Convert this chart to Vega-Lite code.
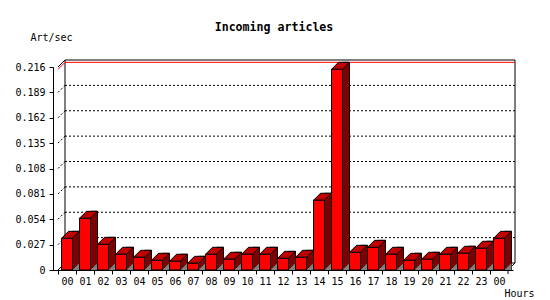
{
  "$schema": "https://vega.github.io/schema/vega-lite/v6.json",
  "width": 460,
  "height": 203,
  "autosize": {"type": "none"},
  "padding": {"left": 53, "top": 67, "right": 37, "bottom": 30},
  "background": "white",
  "title": {"text": "Incoming articles", "font": "DejaVu Sans Mono", "fontSize": 11.6, "fontWeight": "bold", "color": "black", "anchor": "middle", "frame": "group", "baseline": "alphabetic", "offset": -11, "dx": -9},
  "config": {
    "view": {"stroke": null},
    "axis": {"labelFont": "DejaVu Sans Mono", "titleFont": "DejaVu Sans Mono", "labelFontSize": 10, "titleFontSize": 10, "labelColor": "black", "titleColor": "black", "domainColor": "black", "tickColor": "black", "titleFontWeight": "normal"}
  },
  "resolve": {"axis": {"x": "independent", "y": "independent"}},
  "datasets": {
    "rates": [
      {"hour": 0, "v": 0.0337}, {"hour": 1, "v": 0.055}, {"hour": 2, "v": 0.0273}, {"hour": 3, "v": 0.0167},
      {"hour": 4, "v": 0.0135}, {"hour": 5, "v": 0.0103}, {"hour": 6, "v": 0.0093}, {"hour": 7, "v": 0.0071},
      {"hour": 8, "v": 0.0167}, {"hour": 9, "v": 0.0114}, {"hour": 10, "v": 0.0167}, {"hour": 11, "v": 0.0167},
      {"hour": 12, "v": 0.0124}, {"hour": 13, "v": 0.0135}, {"hour": 14, "v": 0.0742}, {"hour": 15, "v": 0.2135},
      {"hour": 16, "v": 0.0188}, {"hour": 17, "v": 0.0241}, {"hour": 18, "v": 0.0167}, {"hour": 19, "v": 0.0103},
      {"hour": 20, "v": 0.0114}, {"hour": 21, "v": 0.0167}, {"hour": 22, "v": 0.0178}, {"hour": 23, "v": 0.0231},
      {"hour": 24, "v": 0.0337}
    ],
    "grid": [{"g": 0.027}, {"g": 0.054}, {"g": 0.081}, {"g": 0.108}, {"g": 0.135}, {"g": 0.162}, {"g": 0.189}],
    "one": [{}]
  },
  "data": {"name": "rates"},
  "layer": [
    {
      "mark": {"type": "bar", "width": 11, "fill": "#ff0000", "opacity": 0},
      "encoding": {
        "x": {
          "field": "hour", "type": "quantitative", "title": "Hours",
          "scale": {"domain": [-0.5, 24.5], "nice": false, "zero": false},
          "axis": {
            "values": [0, 1, 2, 3, 4, 5, 6, 7, 8, 9, 10, 11, 12, 13, 14, 15, 16, 17, 18, 19, 20, 21, 22, 23, 24],
            "labelExpr": "datum.value == 24 ? '00' : (datum.value < 10 ? '0' : '') + datum.value",
            "tickOffset": -9.2, "labelOffset": 9.2, "tickSize": 4, "labelPadding": 2, "grid": false,
            "labelFlush": false, "labelOverlap": false, "labelAngle": 0,
            "title": "Hours", "titleX": 481, "titleY": 23, "titleAlign": "right", "titleBaseline": "middle"
          }
        },
        "y": {
          "field": "v", "type": "quantitative", "title": "Art/sec",
          "scale": {"domain": [0, 0.216], "nice": false, "zero": false},
          "axis": {
            "values": [0, 0.027, 0.054, 0.081, 0.108, 0.135, 0.162, 0.189, 0.216],
            "labelExpr": "datum.value == 0 ? '0' : format(datum.value, '.3f')",
            "tickSize": 4, "labelPadding": 4, "grid": false, "labelFlush": false, "labelOverlap": false,
            "title": "Art/sec", "titleAngle": 0, "titleX": -23, "titleY": -30, "titleAlign": "left", "titleBaseline": "middle"
          }
        },
        "y2": {"datum": 0}
      }
    },
    {
      "data": {"name": "one"},
      "mark": {"type": "rect", "fill": "transparent", "stroke": "black", "strokeWidth": 1, "xOffset": 7, "x2Offset": 7, "yOffset": -7, "y2Offset": -7},
      "encoding": {
        "x": {"datum": -0.5, "type": "quantitative", "axis": null},
        "x2": {"datum": 24.5},
        "y": {"datum": 0, "type": "quantitative", "axis": null},
        "y2": {"datum": 0.216}
      }
    },
    {
      "data": {"name": "grid"},
      "mark": {"type": "rule", "color": "black", "strokeWidth": 1, "strokeDash": [2, 2], "xOffset": 7, "x2Offset": 7, "yOffset": -7},
      "encoding": {
        "x": {"datum": -0.5, "type": "quantitative", "axis": null},
        "x2": {"datum": 24.5},
        "y": {"field": "g", "type": "quantitative", "axis": null}
      }
    },
    {
      "data": {"name": "grid"},
      "mark": {"type": "rule", "color": "black", "strokeWidth": 1, "strokeDash": [2, 2], "x2Offset": 7, "y2Offset": -7},
      "encoding": {
        "x": {"datum": -0.5, "type": "quantitative", "axis": null},
        "x2": {"datum": -0.5},
        "y": {"field": "g", "type": "quantitative", "axis": null},
        "y2": {"field": "g"}
      }
    },
    {
      "transform": [{"aggregate": [{"op": "max", "field": "v", "as": "m"}]}],
      "mark": {"type": "rule", "color": "#ff0000", "strokeWidth": 1, "xOffset": 7, "x2Offset": 7, "yOffset": -7},
      "encoding": {
        "x": {"datum": -0.5, "type": "quantitative", "axis": null},
        "x2": {"datum": 24.5},
        "y": {"field": "m", "type": "quantitative", "axis": null}
      }
    },
    {
      "transform": [{"aggregate": [{"op": "max", "field": "v", "as": "m"}]}],
      "mark": {"type": "rule", "color": "#ff0000", "strokeWidth": 1, "x2Offset": 7, "y2Offset": -7},
      "encoding": {
        "x": {"datum": -0.5, "type": "quantitative", "axis": null},
        "x2": {"datum": -0.5},
        "y": {"field": "m", "type": "quantitative", "axis": null},
        "y2": {"field": "m"}
      }
    },
    {
      "data": {"name": "one"},
      "mark": {"type": "rule", "color": "black", "strokeWidth": 1, "x2Offset": 7, "y2Offset": -7},
      "encoding": {
        "x": {"datum": -0.5, "type": "quantitative", "axis": null},
        "x2": {"datum": -0.5},
        "y": {"datum": 0.216, "type": "quantitative", "axis": null},
        "y2": {"datum": 0.216}
      }
    },
    {
      "data": {"name": "one"},
      "mark": {"type": "rule", "color": "black", "strokeWidth": 1, "x2Offset": 7, "y2Offset": -7},
      "encoding": {
        "x": {"datum": -0.5, "type": "quantitative", "axis": null},
        "x2": {"datum": -0.5},
        "y": {"datum": 0, "type": "quantitative", "axis": null},
        "y2": {"datum": 0}
      }
    },
    {
      "data": {"name": "one"},
      "mark": {"type": "rule", "color": "black", "strokeWidth": 1, "x2Offset": 7, "y2Offset": -7},
      "encoding": {
        "x": {"datum": 24.5, "type": "quantitative", "axis": null},
        "x2": {"datum": 24.5},
        "y": {"datum": 0, "type": "quantitative", "axis": null},
        "y2": {"datum": 0}
      }
    },
    {
      "data": {"name": "one"},
      "mark": {"type": "rule", "color": "black", "strokeWidth": 1, "y2Offset": 4},
      "encoding": {
        "x": {"datum": 24.5, "type": "quantitative", "axis": null},
        "y": {"datum": 0, "type": "quantitative", "axis": null},
        "y2": {"datum": 0}
      }
    },
    {
      "mark": {"type": "bar", "width": 7, "xOffset": 9, "yOffset": -7, "fill": "#800000", "stroke": "black", "strokeWidth": 1},
      "encoding": {
        "x": {"field": "hour", "type": "quantitative", "axis": null},
        "y": {"field": "v", "type": "quantitative", "axis": null},
        "y2": {"datum": 0}
      }
    },
    {
      "mark": {"type": "point", "shape": "M-1,1L1,-1L1,1Z", "size": 49, "filled": true, "fill": "#808080", "strokeWidth": 0, "opacity": 1, "xOffset": 9, "yOffset": -3.5},
      "encoding": {
        "x": {"field": "hour", "type": "quantitative", "axis": null},
        "y": {"datum": 0, "type": "quantitative", "axis": null}
      }
    },
    {
      "mark": {"type": "point", "shape": "M-1,0.3889L0.2222,0.3889L1,-0.3889L-0.2222,-0.3889Z", "size": 324, "filled": true, "fill": "#c00000", "stroke": "black", "strokeWidth": 1, "opacity": 1, "xOffset": 3.5, "yOffset": -3.5},
      "encoding": {
        "x": {"field": "hour", "type": "quantitative", "axis": null},
        "y": {"field": "v", "type": "quantitative", "axis": null}
      }
    },
    {
      "mark": {"type": "bar", "width": 11, "fill": "#ff0000", "stroke": "black", "strokeWidth": 1},
      "encoding": {
        "x": {"field": "hour", "type": "quantitative", "axis": null},
        "y": {"field": "v", "type": "quantitative", "axis": null},
        "y2": {"datum": 0}
      }
    }
  ]
}
